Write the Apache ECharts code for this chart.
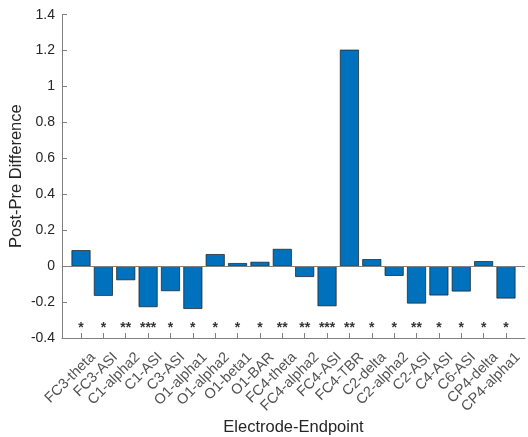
<!DOCTYPE html>
<html>
<head>
<meta charset="utf-8">
<script src="https://cdn.jsdelivr.net/npm/echarts@6/dist/echarts.min.js"></script>
<style>html,body{margin:0;padding:0;background:#fff}#c{width:528px;height:437px}</style>
</head>
<body>
<div id="c"></div>
<script>
var categories = ['FC3-theta','FC3-ASI','C1-alpha2','C1-ASI','C3-ASI','O1-alpha1','O1-alpha2','O1-beta1','O1-BAR','FC4-theta','FC4-alpha2','FC4-ASI','FC4-TBR','C2-delta','C2-alpha2','C2-ASI','C4-ASI','C6-ASI','CP4-delta','CP4-alpha1'];
var values = [0.089,-0.165,-0.078,-0.228,-0.139,-0.238,0.067,0.017,0.024,0.096,-0.060,-0.223,1.205,0.039,-0.054,-0.208,-0.163,-0.141,0.028,-0.180];
var stars = ['*','*','**','***','*','*','*','*','*','**','**','***','**','*','*','**','*','*','*','*'];
var starLevel = -0.347;
var yMin = -0.4, yMax = 1.4, yStep = 0.2;
var xTitle = 'Electrode-Endpoint';
var yTitle = 'Post-Pre Difference';

var positions = categories.map(function(c,i){return i+1;});
var chart = echarts.init(document.getElementById('c'));
var font = 'Liberation Sans, Arial, Helvetica, sans-serif';
chart.setOption({
  animation:false,
  grid:{left:62,right:3,top:14.7,bottom:99,containLabel:false,outerBoundsMode:'none'},
  graphic:[
    {type:'text',x:293.5,y:427,style:{text:xTitle,font:'16.5px '+font,fill:'#262626',textAlign:'center',textVerticalAlign:'middle'}},
    {type:'text',rotation:Math.PI/2,x:8,y:248,style:{text:yTitle,font:'16.5px '+font,fill:'#262626',textVerticalAlign:'top'}}
  ],
  xAxis:{
    type:'value', min:0.15, max:20.85,
    axisLine:{show:true,onZero:false,lineStyle:{color:'#808080',width:1}},
    axisTick:{show:true,inside:true,length:5,customValues:positions,lineStyle:{color:'#808080'}},
    axisLabel:{show:false},
    splitLine:{show:false}
  },
  yAxis:{
    type:'value', min:yMin, max:yMax, interval:yStep,
    axisLine:{show:true,onZero:false,lineStyle:{color:'#808080',width:1}},
    axisTick:{show:true,inside:true,length:5,lineStyle:{color:'#808080'}},
    axisLabel:{fontFamily:font,fontSize:14,color:'#262626',margin:7,
      formatter:function(v){return String(Math.round(v*10)/10);}},
    splitLine:{show:false}
  },
  series:[{
    type:'bar',
    data:values.map(function(v,i){return [positions[i],v];}),
    barWidth:19,
    itemStyle:{color:'#0072BD',borderColor:'#1a1a1a',borderWidth:0.7},
    markLine:{silent:true,symbol:'none',label:{show:false},
      lineStyle:{color:'#808080',width:1,type:'solid'},
      data:[{yAxis:0}]}
  },{
    type:'scatter',
    symbolSize:0,
    data:stars.map(function(s,i){return [positions[i],starLevel];}),
    label:{show:true,position:'inside',fontFamily:font,fontSize:14,fontWeight:'bold',color:'#000',
      formatter:function(p){return stars[p.dataIndex];}}
  },{
    type:'scatter',
    symbolSize:0,
    silent:true,
    data:categories.map(function(c,i){return [positions[i],yMin];}),
    label:{show:true,position:[12,17],rotate:45,align:'right',verticalAlign:'middle',
      fontFamily:font,fontSize:14.5,color:'#262626',
      formatter:function(p){return categories[p.dataIndex];}}
  }]
});
</script>
</body>
</html>
